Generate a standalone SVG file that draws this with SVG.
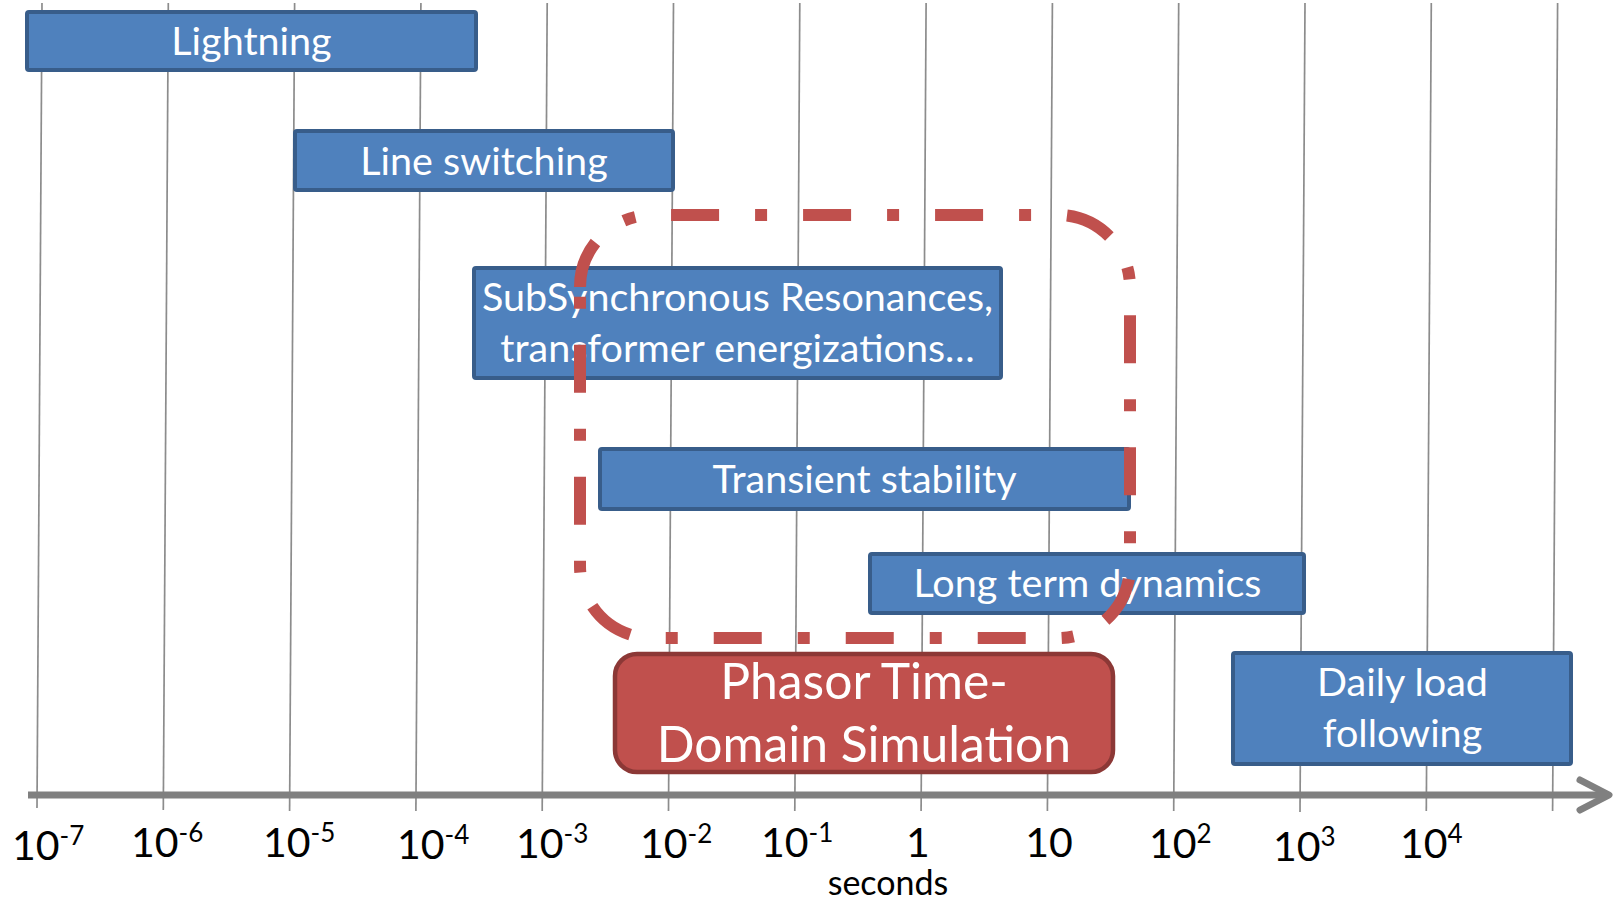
<svg xmlns="http://www.w3.org/2000/svg" width="1615" height="901" viewBox="0 0 1615 901">
<style>
.grid{stroke:#8c8c8c;stroke-width:1.7;fill:none}
.box{fill:#4F81BD;stroke:#385D8A;stroke-width:4}
.red{fill:#C0504D;stroke:#8C3836;stroke-width:4.5}
.bt{font-family:Lato,"Open Sans",sans-serif;font-size:39.5px;fill:#ffffff;text-anchor:middle}
.rt{font-family:Lato,"Open Sans",sans-serif;font-size:49.8px;fill:#ffffff;text-anchor:middle}
.tl{font-family:Lato,"Open Sans",sans-serif;font-size:41px;fill:#000000}
.sup{font-size:26px}
.sec{font-family:Lato,"Open Sans",sans-serif;font-size:34px;fill:#000000;text-anchor:middle}
.axis{stroke:#808080;stroke-width:7;fill:none}
.dash{fill:none;stroke:#C0504D;stroke-width:12;stroke-dasharray:48 36 12 36;stroke-linecap:butt}
</style>
<rect x="0" y="0" width="1615" height="901" fill="#ffffff"/>
<g id="grid">
<line class="grid" x1="42" y1="3" x2="37" y2="808"/>
<line class="grid" x1="168.3" y1="3" x2="163.3" y2="810"/>
<line class="grid" x1="294.6" y1="3" x2="289.6" y2="811"/>
<line class="grid" x1="420.9" y1="3" x2="415.9" y2="811"/>
<line class="grid" x1="547.2" y1="3" x2="542.2" y2="811"/>
<line class="grid" x1="673.5" y1="3" x2="668.5" y2="811"/>
<line class="grid" x1="799.8" y1="3" x2="794.8" y2="811"/>
<line class="grid" x1="926.1" y1="3" x2="921.1" y2="811"/>
<line class="grid" x1="1052.4" y1="3" x2="1047.4" y2="811"/>
<line class="grid" x1="1178.7" y1="3" x2="1173.7" y2="811"/>
<line class="grid" x1="1305" y1="3" x2="1300" y2="812"/>
<line class="grid" x1="1431.3" y1="3" x2="1426.3" y2="811"/>
<line class="grid" x1="1557.6" y1="3" x2="1552.6" y2="811"/>
</g>
<g id="axis">
<line class="axis" x1="28" y1="795" x2="1606" y2="795"/>
<polyline class="axis" points="1580,780 1609,795 1580,810" stroke-linecap="round" stroke-linejoin="round"/>
</g>
<g id="node-lightning">
<rect class="box" x="27" y="12" width="449" height="58" rx="2"/>
<text class="bt" x="251.5" y="55">Lightning</text>
</g>
<g id="node-line-switching">
<rect class="box" x="295" y="131" width="378" height="59" rx="2"/>
<text class="bt" x="484" y="175">Line switching</text>
</g>
<g id="node-ssr">
<rect class="box" x="474" y="268" width="527" height="110" rx="2"/>
<text class="bt" x="737.5" y="311">SubSynchronous Resonances,</text>
<text class="bt" x="737.5" y="362">transformer energizations…</text>
</g>
<g id="node-transient">
<rect class="box" x="600" y="449" width="529" height="60" rx="2"/>
<text class="bt" x="864.5" y="493">Transient stability</text>
</g>
<g id="node-long-term">
<rect class="box" x="870" y="554" width="434" height="59" rx="2"/>
<text class="bt" x="1087.5" y="597">Long term dynamics</text>
</g>
<g id="node-daily">
<rect class="box" x="1233" y="653" width="338" height="111" rx="2"/>
<text class="bt" x="1402.5" y="696">Daily load</text>
<text class="bt" x="1402.5" y="747">following</text>
</g>
<g id="node-phasor">
<rect class="red" x="615" y="654" width="498" height="118" rx="22"/>
<text class="rt" x="864" y="699">Phasor Time-</text>
<text class="rt" x="864" y="762">Domain Simulation</text>
</g>
<g id="connectors">
<path id="phasor-scope" class="dash" d="M580,287 A72,72 0 0 1 652,215 H1058 A72,72 0 0 1 1130,287 V566 A72,72 0 0 1 1058,638 H652 A72,72 0 0 1 580,566 V287"/>
</g>
<g id="tick-labels">
<text class="tl" x="12" y="860">10<tspan class="sup" dy="-15">-7</tspan></text>
<text class="tl" x="131" y="857">10<tspan class="sup" dy="-15">-6</tspan></text>
<text class="tl" x="263" y="857">10<tspan class="sup" dy="-15">-5</tspan></text>
<text class="tl" x="397" y="859">10<tspan class="sup" dy="-15">-4</tspan></text>
<text class="tl" x="516" y="858">10<tspan class="sup" dy="-15">-3</tspan></text>
<text class="tl" x="640" y="858">10<tspan class="sup" dy="-15">-2</tspan></text>
<text class="tl" x="761" y="857">10<tspan class="sup" dy="-15">-1</tspan></text>
<text class="tl" x="918" y="857" text-anchor="middle">1</text>
<text class="tl" x="1049" y="857" text-anchor="middle">10</text>
<text class="tl" x="1149" y="858">10<tspan class="sup" dy="-15">2</tspan></text>
<text class="tl" x="1273" y="861">10<tspan class="sup" dy="-15">3</tspan></text>
<text class="tl" x="1400" y="858">10<tspan class="sup" dy="-15">4</tspan></text>
<text class="sec" x="888" y="895">seconds</text>
</g>
</svg>
